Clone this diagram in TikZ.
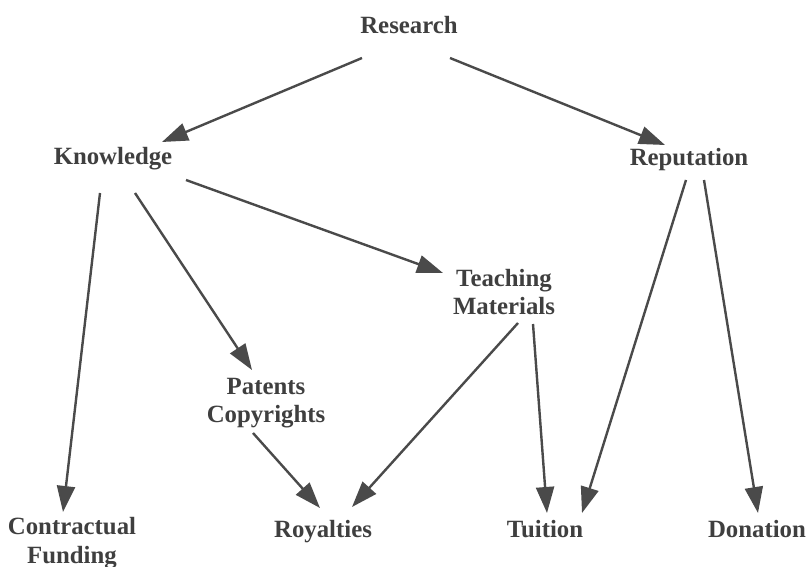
\documentclass[tikz,border=0pt]{standalone}
\usepackage{xcolor}
\usepackage{fontspec}
\setmainfont{Liberation Serif}
\usepackage{tikz}
\usetikzlibrary{calc, arrows.meta}
\definecolor{ink}{HTML}{4A4A4A}
\tikzstyle{word} = [text=ink!85!black, font=\bfseries\fontsize{12.4}{14.3}\selectfont, align=center, inner sep=0pt]
\tikzstyle{arrow} = [-{Triangle[length=13pt, width=9pt]}, line width=1.2pt, draw=ink]

\begin{document}
\begin{tikzpicture}[x=0.5pt, y=-0.5pt]
		\useasboundingbox (0,0) rectangle (809,567);
		%place the nodes
		\node[word](res) at (409,25){Research};
		\node[word](know) at (113,159){Knowledge};
		\node[word](rep) at (689,160){Reputation};
		\node[word](teach) at (504,292){Teaching\\Materials};
		\node[word](pat) at (266,403){Patents\\Copyrights};
		\node[word](fund) at (72,543){Contractual\\Funding};
		\node[word](roy) at (323,532){Royalties};
		\node[word](tui) at (545,529){Tuition};
		\node[word](don) at (757,529){Donation};
		%connect the nodes
		\draw [arrow] ($(res)+(-47,33)$) -- ($(know)+(49,-17)$);
		\draw [arrow] ($(res)+(41,33)$) -- ($(rep)+(-24,-15)$);
		\draw [arrow] ($(know)+(-13,34)$) -- ($(fund)+(-9,-31)$);
		\draw [arrow] ($(know)+(22,34)$) -- ($(pat)+(-14,-33)$);
		\draw [arrow] ($(know)+(73,21)$) -- ($(teach)+(-61,-19)$);
		\draw [arrow] ($(rep)+(-3,20)$) -- ($(tui)+(37,-16)$);
		\draw [arrow] ($(rep)+(15,20)$) -- ($(don)+(1,-16)$);
		\draw [arrow] ($(teach)+(14,31)$) -- ($(roy)+(29,-25)$);
		\draw [arrow] ($(teach)+(29,32)$) -- ($(tui)+(2,-16)$);
		\draw [arrow] ($(pat)+(-13,30)$) -- ($(roy)+(-3,-24)$);

	\end{tikzpicture}
\end{document}
